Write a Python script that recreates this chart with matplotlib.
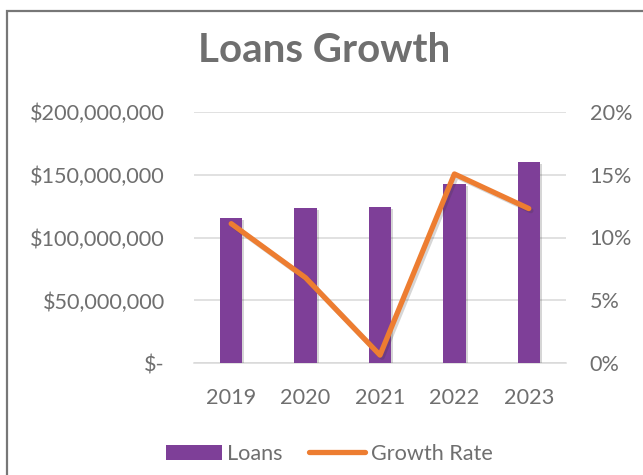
import matplotlib
matplotlib.use("Agg")
import matplotlib.pyplot as plt
import matplotlib.patheffects as pe
from matplotlib.patches import Rectangle
from matplotlib.lines import Line2D
from matplotlib.ticker import FuncFormatter, MultipleLocator

# Data
years = ["2019", "2020", "2021", "2022", "2023"]
loans = [115_300_000, 123_200_000, 124_000_000, 142_300_000, 160_300_000]
growth_rate = [0.111, 0.068, 0.0065, 0.1505, 0.123]

PURPLE = "#7E3F98"
ORANGE = "#ED7D31"
TEXT = "#6F6F6F"
GRID = "#D9D9D9"
LABEL_SIZE = 15.6

plt.rcParams["font.family"] = ["Lato", "DejaVu Sans"]

W, H = 643, 475
fig = plt.figure(figsize=(W / 100, H / 100), dpi=100)

# Chart area border
fig.patches.append(Rectangle((7 / W, -0.2), 2.0, (H - 11) / H + 0.2,
                             transform=fig.transFigure, fill=False,
                             edgecolor="#777777", linewidth=1.6,
                             clip_on=False))

ax = fig.add_axes([194 / W, (H - 363.3) / H, 372 / W, 251.6 / H])
ax2 = ax.twinx()

x = list(range(len(years)))
bars = ax.bar(x, loans, width=0.3, color=PURPLE, zorder=3)
for b in bars:
    b.set_path_effects([pe.SimplePatchShadow(offset=(1.5, -1.5), alpha=0.2,
                                             shadow_rgbFace="#333333"),
                        pe.Normal()])

ax.set_xlim(-0.5, len(years) - 0.5)
ax.set_ylim(0, 200_000_000)
ax.yaxis.set_major_locator(MultipleLocator(50_000_000))


def dollars(v, _):
    if v == 0:
        return "$-"
    return f"${v:,.0f}"


ax.yaxis.set_major_formatter(FuncFormatter(dollars))
ax.set_xticks(x)
ax.set_xticklabels(years)
ax.grid(axis="y", color=GRID, linewidth=1.1, zorder=0)
ax.set_axisbelow(True)
for s in ["top", "right", "left"]:
    ax.spines[s].set_visible(False)
ax.spines["bottom"].set_color(GRID)
ax.spines["bottom"].set_linewidth(1.1)
ax.tick_params(axis="both", length=0, labelsize=LABEL_SIZE, labelcolor=TEXT)
ax.tick_params(axis="y", pad=21)
ax.tick_params(axis="x", pad=18)

ax2.plot(x, growth_rate, color=ORANGE, linewidth=3.8,
         solid_capstyle="round", solid_joinstyle="round", zorder=4,
         path_effects=[pe.SimpleLineShadow(offset=(1.5, -1.5), alpha=0.2,
                                           shadow_color="#333333"),
                       pe.Normal()])
ax2.set_ylim(0, 0.20)
ax2.yaxis.set_major_locator(MultipleLocator(0.05))
ax2.yaxis.set_major_formatter(FuncFormatter(lambda v, _: f"{v * 100:.0f}%"))
for s in ["top", "right", "left", "bottom"]:
    ax2.spines[s].set_visible(False)
ax2.tick_params(axis="y", length=0, labelsize=LABEL_SIZE, labelcolor=TEXT,
                pad=17)

fig.text(324.5 / W, 1 - 50 / H, "Loans Growth", ha="center", va="center",
         fontsize=29, fontweight="bold", color=TEXT)

handles = [Rectangle((0, 0), 1, 1, facecolor=PURPLE),
           Line2D([0], [0], color=ORANGE, linewidth=3.8, solid_capstyle="round")]
fig.legend(handles, ["Loans", "Growth Rate"], loc="center",
           bbox_to_anchor=(329 / W, 1 - 454 / H), ncol=2, frameon=False,
           fontsize=LABEL_SIZE, labelcolor=TEXT, handlelength=2.6,
           handleheight=0.75, handletextpad=0.25, columnspacing=1.2)

fig.savefig("out.png", dpi=100)
